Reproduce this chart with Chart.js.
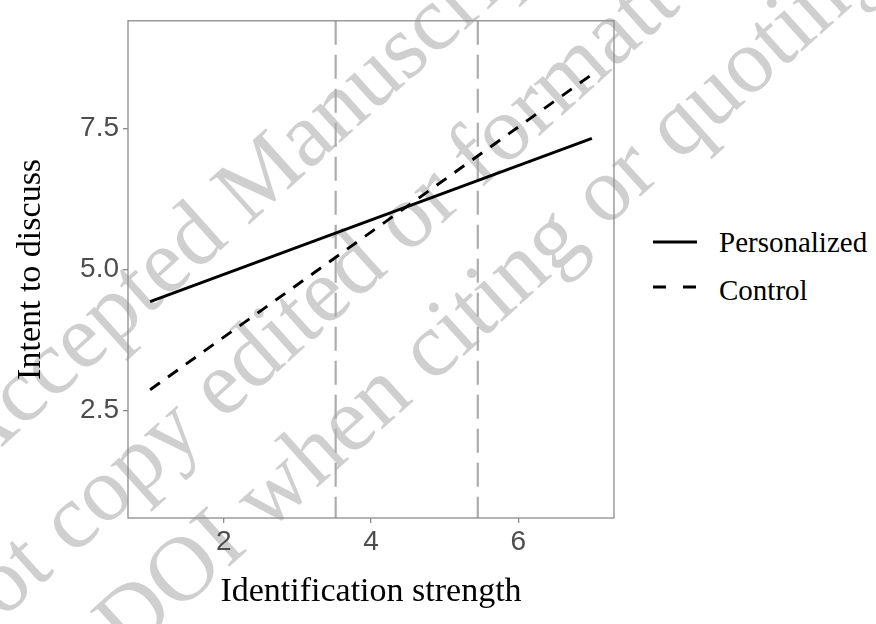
<!DOCTYPE html>
<html>
<head>
<meta charset="utf-8">
<script src="https://cdn.jsdelivr.net/npm/chart.js@4.4.1/dist/chart.umd.min.js"></script>
<style>
  html, body { margin: 0; padding: 0; background: #fff; }
  #wrap { position: relative; width: 876px; height: 624px; overflow: hidden; }
  #marks, #chart { position: absolute; left: 0; top: 0; }
</style>
</head>
<body>
<div id="wrap">
  <svg id="marks" width="876" height="624">
    <!-- watermark -->
    <g font-family="'Liberation Serif', 'Times New Roman', serif" font-size="92" fill="#cfcfcf">
      <text transform="translate(-28,474) rotate(-42)">Accepted Manuscript</text>
      <text transform="translate(-47,664) rotate(-42)">Not copy edited or formatted</text>
      <text transform="translate(128,658) rotate(-42)">DOI when citing or quoting</text>
    </g>
    <!-- legend -->
    <line x1="653" y1="242" x2="697" y2="242" stroke="#000" stroke-width="2.8" />
    <line x1="653" y1="287" x2="697" y2="287" stroke="#000" stroke-width="2.8" stroke-dasharray="13 17" />
    <g font-family="'Liberation Serif', 'Times New Roman', serif" font-size="29" fill="#000">
      <text x="719" y="252">Personalized</text>
      <text x="719" y="300">Control</text>
    </g>
  </svg>
  <canvas id="chart" width="876" height="624"></canvas>
</div>
<script>
const xValues = [1, 7];
const personalizedValues = [4.43, 7.32];
const controlValues = [2.87, 8.45];
const cutoffValues = [3.52, 5.45];
const xTickValues = [2, 4, 6];
const yTickValues = [2.5, 5.0, 7.5];
const xRange = [0.7, 7.3];
const yRange = [0.6, 9.4];

const toPoints = (xs, ys) => xs.map((x, i) => ({ x: x, y: ys[i] }));

const panelBorder = {
  id: "panelBorder",
  afterDraw(chart) {
    const { ctx, chartArea: a } = chart;
    ctx.save();
    ctx.strokeStyle = "#8c8c8c";
    ctx.lineWidth = 1.3;
    ctx.strokeRect(a.left, a.top, a.right - a.left, a.bottom - a.top);
    ctx.restore();
  },
};

const datasets = [
  {
    label: "Personalized",
    data: toPoints(xValues, personalizedValues),
    borderColor: "#000",
    borderWidth: 2.9,
  },
  {
    label: "Control",
    data: toPoints(xValues, controlValues),
    borderColor: "#000",
    borderWidth: 2.9,
    borderDash: [12, 10],
  },
].concat(
  cutoffValues.map((c) => ({
    label: "cutoff",
    data: [{ x: c, y: yRange[1] }, { x: c, y: yRange[0] }],
    borderColor: "#acacac",
    borderWidth: 2.2,
    borderDash: [24, 10],
  })),
);

const tickFont = { family: "'Liberation Sans', Arial, sans-serif", size: 28 };
const titleFont = { family: "'Liberation Serif', 'Times New Roman', serif", size: 34 };
const axisGrid = {
  drawOnChartArea: false,
  drawTicks: true,
  tickLength: 5,
  color: "#8c8c8c",
  lineWidth: 1.3,
};

new Chart(document.getElementById("chart").getContext("2d"), {
  type: "line",
  data: { datasets: datasets },
  options: {
    responsive: false,
    animation: false,
    events: [],
    elements: { point: { radius: 0 }, line: { tension: 0 } },
    layout: { padding: { top: 16, right: 262, left: 0, bottom: 0 } },
    plugins: { legend: { display: false }, tooltip: { enabled: false } },
    scales: {
      x: {
        type: "linear",
        min: xRange[0],
        max: xRange[1],
        afterBuildTicks: (axis) => {
          axis.ticks = xTickValues.map((v) => ({ value: v }));
        },
        afterFit: (axis) => {
          axis.height = 106;
        },
        grid: axisGrid,
        border: { display: false },
        ticks: { color: "#4d4d4d", font: tickFont, padding: 2, maxRotation: 0 },
        title: {
          display: true,
          text: "Identification strength",
          color: "#000",
          font: titleFont,
          padding: { top: 0, bottom: 12 },
        },
      },
      y: {
        type: "linear",
        min: yRange[0],
        max: yRange[1],
        afterBuildTicks: (axis) => {
          axis.ticks = yTickValues.map((v) => ({ value: v }));
        },
        afterFit: (axis) => {
          axis.width = 128;
        },
        grid: axisGrid,
        border: { display: false },
        ticks: {
          color: "#4d4d4d",
          font: tickFont,
          padding: 4,
          callback: (v) => Number(v).toFixed(1),
        },
        title: {
          display: true,
          text: "Intent to discuss",
          color: "#000",
          font: titleFont,
          padding: { top: 11, bottom: 0 },
        },
      },
    },
  },
  plugins: [panelBorder],
});
</script>
</body>
</html>
